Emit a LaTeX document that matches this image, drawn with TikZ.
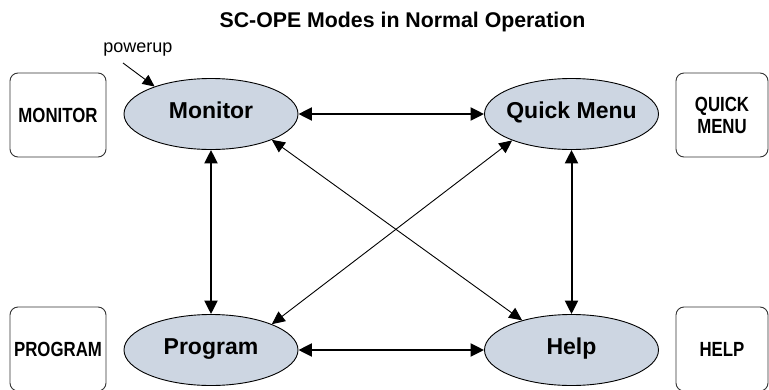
\documentclass[tikz,border=0pt]{standalone}
\usepackage{fontspec}
\setmainfont{Liberation Sans}
\newfontfamily\narrowfont[FakeStretch=0.82]{Liberation Sans}
\usetikzlibrary{arrows.meta,shapes.geometric}
\definecolor{modefill}{RGB}{205,214,226}
\begin{document}
\begin{tikzpicture}[x=1pt,y=-1pt,
  mode/.style={ellipse, draw=black, line width=0.9pt, fill=modefill,
    minimum width=174pt, minimum height=71pt, inner sep=0pt,
    font=\bfseries\fontsize{23}{27}\selectfont, text height=12pt, text depth=2.6pt},
  keybox/.style={draw=black!80, rounded corners=8pt, line width=0.9pt,
    minimum height=84pt, inner sep=0pt, align=center,
    font=\narrowfont\bfseries\fontsize{20.5}{22}\selectfont},
  biarrow/.style={{Triangle[length=13.5pt,width=13pt]}-{Triangle[length=13.5pt,width=13pt]}, line width=2pt},
  thinarrow/.style={{Triangle[length=13pt,width=12pt]}-{Triangle[length=13pt,width=12pt]}, line width=0.9pt},
  onearrow/.style={-{Triangle[length=12pt,width=11pt]}, line width=0.9pt}]
\useasboundingbox (0,0) rectangle (769,389);
\clip (0,0) rectangle (769,389);

\node[font=\bfseries\fontsize{21.3}{24}\selectfont, anchor=base] (title) at (402.5,27.8) {SC-OPE Modes in Normal Operation};
\node[font=\fontsize{18}{20}\selectfont, anchor=base] (pwlabel) at (138,52.3) {powerup};

\node[mode] (mon)  at (211,114) {\makebox[0pt]{Monitor}};
\node[mode] (qm)   at (571.5,114) {\makebox[0pt]{Quick Menu}};
\node[mode] (prog) at (211,350) {\makebox[0pt]{Program}};
\node[mode] (help) at (571.5,350) {\makebox[0pt]{Help}};

\node[keybox, minimum width=96pt] (monbox)  at (58,115) {MONITOR};
\node[keybox, minimum width=92pt] (qmbox)   at (722,115) {QUICK\\MENU};
\node[keybox, minimum width=96pt] (progbox) at (58,349) {PROGRAM};
\node[keybox, minimum width=92pt] (helpbox) at (722,349) {HELP};

\draw[biarrow] (mon) -- (qm);
\draw[biarrow] (prog) -- (help);
\draw[biarrow] (mon) -- (prog);
\draw[biarrow] (qm) -- (help);
\draw[thinarrow] (mon.-23) -- (help.149);
\draw[thinarrow] (qm.204) -- (prog.23);

\coordinate (pw) at (123,63);
\draw[onearrow] (pw) -- (mon.154);
\end{tikzpicture}
\end{document}
